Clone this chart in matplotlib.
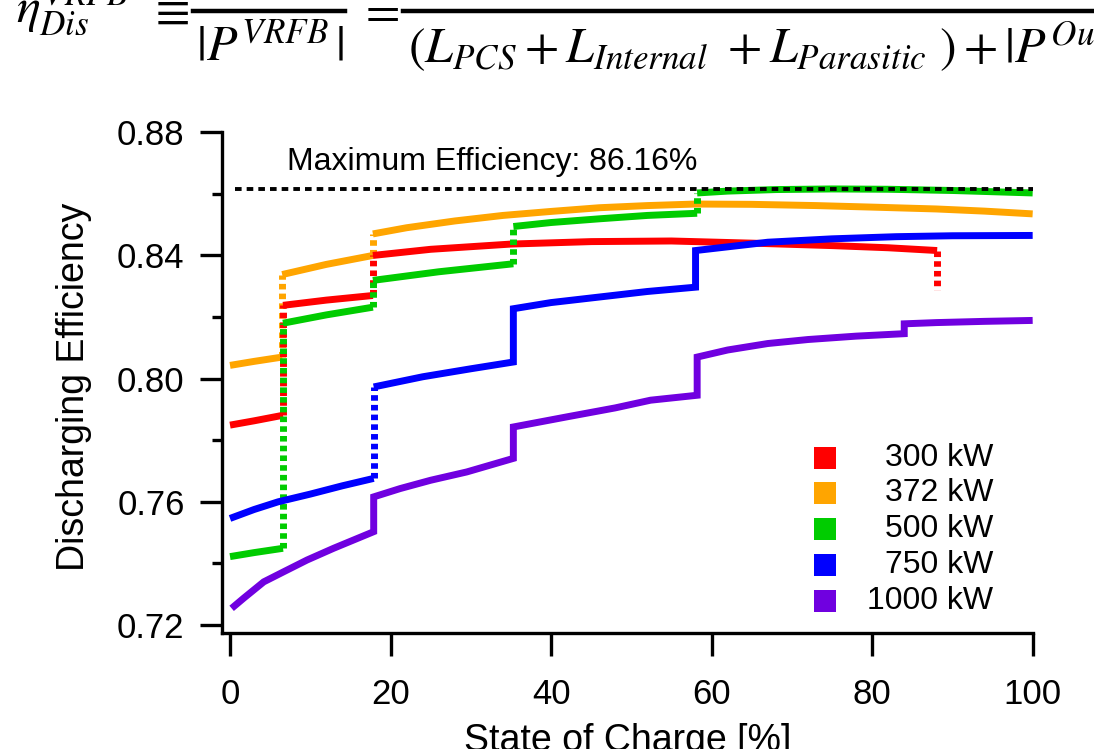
import matplotlib
matplotlib.use("Agg")
import matplotlib.pyplot as plt
from matplotlib.lines import Line2D

plt.rcParams['font.family'] = ['Liberation Sans', 'DejaVu Sans']
plt.rcParams['mathtext.fontset'] = 'stix'

# ---- data: discharging efficiency vs state of charge ----
series_names = ['300 kW', '372 kW', '500 kW', '750 kW', '1000 kW']
series_colors = ['#FF0000', '#FFA500', '#00CC00', '#0000FF', '#7000E0']

soc_300 = [0, 3, 6.6, 6.6, 12, 17.8, 17.8, 25, 35, 45, 55, 65, 75, 82, 88.1, 88.1]
eff_300 = [0.7849, 0.7863, 0.7881, 0.8238, 0.8255, 0.8270, 0.8400, 0.8420, 0.8437,
           0.8445, 0.8447, 0.8440, 0.8432, 0.8425, 0.8416, 0.8287]

soc_372 = [0, 3, 6.5, 6.5, 12, 17.8, 17.8, 22, 28, 34, 40, 46, 52, 58, 65, 73, 80, 88, 94, 100]
eff_372 = [0.8043, 0.8056, 0.8070, 0.8338, 0.8371, 0.8400, 0.8470, 0.8490, 0.8512, 0.8530,
           0.8543, 0.8555, 0.8562, 0.8567, 0.8566, 0.8562, 0.8557, 0.8551, 0.8544, 0.8535]

soc_500 = [0, 3, 6.6, 6.6, 12, 17.8, 17.8, 26, 35.3, 35.3, 40, 46, 52, 58.2, 58.2,
           62, 68, 75, 82, 90, 95, 100]
eff_500 = [0.7422, 0.7435, 0.7449, 0.8180, 0.8207, 0.8232, 0.8319, 0.8347, 0.8373, 0.8494,
           0.8507, 0.8519, 0.8530, 0.8537, 0.8603, 0.8609, 0.8614, 0.8616, 0.8615, 0.8611,
           0.8607, 0.8603]

soc_750 = [0, 3, 6, 10, 14, 17.9, 17.9, 24, 30, 35.3, 35.3, 40, 46, 52, 58, 58,
           62, 67, 75, 83, 90, 100]
eff_750 = [0.7546, 0.7575, 0.7600, 0.7625, 0.7652, 0.7676, 0.7973, 0.8006, 0.8032, 0.8054,
           0.8227, 0.8247, 0.8265, 0.8283, 0.8297, 0.8416, 0.8428, 0.8443, 0.8454, 0.8461,
           0.8464, 0.8465]

soc_1000 = [0.2, 1.7, 4.2, 6.7, 9.6, 12.9, 17.9, 17.9, 21.2, 25, 29.5, 35.3, 35.3, 42, 48,
            52.4, 58.2, 58.2, 62, 67, 72, 78, 84, 84, 88, 94, 100]
eff_1000 = [0.7254, 0.7287, 0.7340, 0.7373, 0.7411, 0.7449, 0.7503, 0.7616, 0.7643, 0.7670,
            0.7697, 0.7741, 0.7843, 0.7876, 0.7905, 0.7930, 0.7946, 0.8070, 0.8093, 0.8114,
            0.8127, 0.8138, 0.8146, 0.8178, 0.8182, 0.8186, 0.8189]

series_soc = [soc_300, soc_372, soc_500, soc_750, soc_1000]
series_eff = [eff_300, eff_372, eff_500, eff_750, eff_1000]

max_eff = 0.8616

x_ticks = [0, 20, 40, 60, 80, 100]
y_ticks = [0.72, 0.76, 0.80, 0.84, 0.88]
y_minor = [0.74, 0.78, 0.82, 0.86]

# ---- styling ----
LW = 5.0
DOT = (0, (0.8, 0.6))
jump_styles = {
    '300 kW': 'dotted',
    '372 kW': 'dotted',
    '500 kW': 'dotted',
    '750 kW': ['dotted', 'solid', 'solid'],
    '1000 kW': 'solid',
}
draw_order = {'372 kW': 2, '300 kW': 3, '500 kW': 4, '750 kW': 5, '1000 kW': 6}

fig = plt.figure(figsize=(10.94, 7.49), dpi=100)
ax = fig.add_axes([0.2027, 0.1549, 0.7416, 0.6693])


def draw_series(ax, xs, ys, color, styles, z):
    """Draw continuous pieces solid; vertical steps solid or dotted."""
    n_jumps = sum(1 for i in range(1, len(xs)) if xs[i] == xs[i - 1])
    if isinstance(styles, str):
        styles = [styles] * n_jumps
    px, py = [xs[0]], [ys[0]]
    j = 0
    for i in range(1, len(xs)):
        if xs[i] == xs[i - 1]:
            style = styles[j]
            j += 1
            if style == 'dotted':
                if len(px) > 1:
                    ax.plot(px, py, color=color, lw=LW, solid_capstyle='butt',
                            solid_joinstyle='miter', zorder=z)
                ax.plot([xs[i - 1], xs[i]], [ys[i - 1], ys[i]], color=color, lw=LW,
                        linestyle=DOT, dash_capstyle='butt', zorder=z)
                px, py = [xs[i]], [ys[i]]
                continue
        px.append(xs[i])
        py.append(ys[i])
    if len(px) > 1:
        ax.plot(px, py, color=color, lw=LW, solid_capstyle='butt',
                solid_joinstyle='miter', zorder=z)


for name, color, xs, ys in zip(series_names, series_colors, series_soc, series_eff):
    draw_series(ax, xs, ys, color, jump_styles[name], draw_order[name])

# maximum efficiency reference line and label
ax.plot([0.6, 100], [max_eff, max_eff], color='black', lw=2.8,
        linestyle=(0, (1.7, 1.3)), dash_capstyle='butt', zorder=8)
ax.text(7.1, 0.8676, f"Maximum Efficiency: {max_eff * 100:.2f}%", fontsize=23,
        ha='left', va='baseline', zorder=9)

# ---- axes ----
ax.set_xlim(-1.03, 100.05)
ax.set_ylim(0.7174, 0.8802)
ax.set_xticks(x_ticks)
ax.set_xticklabels([str(t) for t in x_ticks])
ax.set_yticks(y_ticks)
ax.set_yticklabels([f"{t:.2f}" for t in y_ticks])
ax.set_yticks(y_minor, minor=True)
for s in ['top', 'right']:
    ax.spines[s].set_visible(False)
for s in ['left', 'bottom']:
    ax.spines[s].set_linewidth(2.4)
ax.tick_params(axis='both', which='major', direction='out', width=2.4, labelsize=25)
ax.tick_params(axis='y', which='major', length=15.8, pad=11)
ax.tick_params(axis='y', which='minor', direction='out', length=7.5, width=2.4)
ax.tick_params(axis='x', which='major', length=16.5, pad=16)

ax.set_ylabel('Discharging Efficiency', fontsize=27)
ax.yaxis.set_label_coords(-0.16, 0.49)
ax.set_xlabel('State of Charge [%]', fontsize=27)
ax.xaxis.set_label_coords(0.5, -0.18)

# ---- legend (square swatches, right-aligned labels) ----
leg_x_sw, leg_x_txt = 0.7436, 0.9508
leg_y0, leg_dy = 0.3497, 0.0714
for k, (name, color) in enumerate(zip(series_names, series_colors)):
    yk = leg_y0 - k * leg_dy
    ax.plot([leg_x_sw], [yk], marker='s', markersize=16.5, color=color,
            markeredgewidth=0, transform=ax.transAxes, clip_on=False, zorder=10)
    ax.text(leg_x_txt, yk, name, fontsize=23, ha='right', va='center',
            transform=ax.transAxes, zorder=10)

# ---- efficiency definition at the top ----
H = 749.0
W = 1094.0


def fx(x):
    return x / W


def fy(y):
    return 1 - y / H


fs_eq = 36
fig.text(fx(16), fy(22), r'$\eta_{Dis}^{VRFB}$', fontsize=fs_eq, ha='left', va='baseline')
fig.text(fx(148), fy(12), r'$\equiv$', fontsize=fs_eq, ha='left', va='center')
fig.add_artist(Line2D([fx(193), fx(345)], [fy(10.5), fy(10.5)], color='black', lw=3.2,
                      transform=fig.transFigure))
fig.text(fx(196), fy(61), r'$|P^{VRFB}\,|$', fontsize=fs_eq, ha='left', va='baseline')
fig.text(fx(358), fy(12), r'$=$', fontsize=fs_eq, ha='left', va='center')
fig.add_artist(Line2D([fx(403), fx(1094)], [fy(10.5), fy(10.5)], color='black', lw=3.2,
                      transform=fig.transFigure))
fig.text(fx(408), fy(63),
         r'$(L_{PCS}+L_{Internal}\ +L_{Parasitic}\ )+|P^{Out}|$',
         fontsize=fs_eq, ha='left', va='baseline')

fig.savefig('out.png', dpi=100)
